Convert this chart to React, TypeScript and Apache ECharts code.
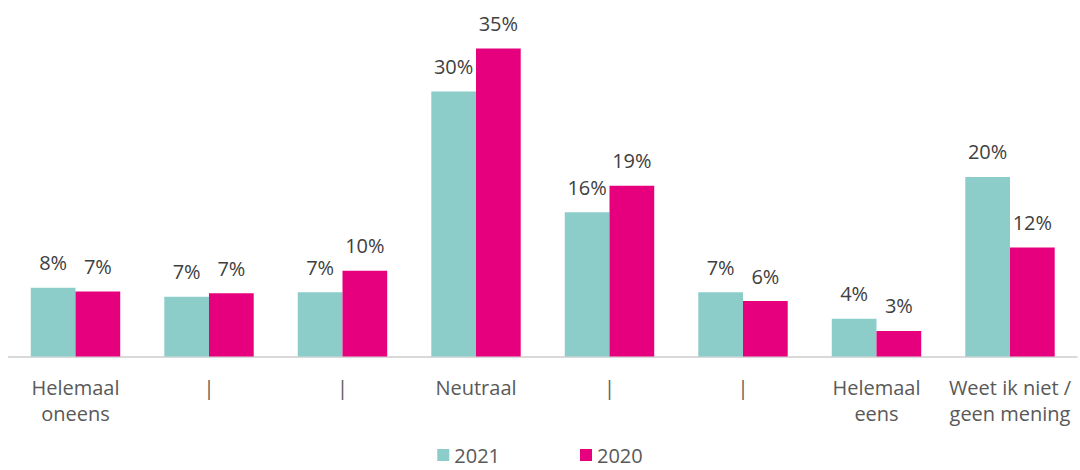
import React, { useEffect, useRef } from "react";
import * as echarts from "echarts";

const categories = [
  "Helemaal\noneens",
  "|",
  "|",
  "Neutraal",
  "|",
  "|",
  "Helemaal\neens",
  "Weet ik niet /\ngeen mening",
];
const values2021 = [7.8, 6.8, 7.3, 30.1, 16.4, 7.3, 4.3, 20.4];
const values2020 = [7.4, 7.2, 9.75, 35.0, 19.4, 6.3, 2.9, 12.4];
const seriesNames = ["2021", "2020"];
const colors = ["#8ccdca", "#e6007e"];

const FONT = "Open Sans";

export default function App() {
  const ref = useRef<HTMLDivElement>(null);
  useEffect(() => {
    if (!ref.current) return;
    const chart = echarts.init(ref.current, undefined, { renderer: "svg" });
    const label = {
      show: true,
      position: "top",
      distance: 15,
      color: "#404040",
      fontSize: 20,
      fontFamily: FONT,
      formatter: (p: any) => Math.round(p.value) + "%",
    };
    chart.setOption({
      animation: false,
      color: colors,
      grid: { left: 8.75, right: 3.25, top: 4.5, bottom: 113.5, containLabel: false },
      legend: {
        top: 445,
        left: "center",
        padding: 0,
        itemWidth: 12,
        itemHeight: 12,
        itemGap: 80,
        icon: "rect",
        textStyle: { fontSize: 20, lineHeight: 20, color: "#595959", fontFamily: FONT },
        data: seriesNames,
      },
      xAxis: {
        type: "category",
        data: categories,
        axisTick: { show: false },
        axisLine: { lineStyle: { color: "#d9d9d9", width: 2 } },
        axisLabel: {
          interval: 0,
          margin: 18,
          fontSize: 20,
          lineHeight: 26,
          color: "#595959",
          fontFamily: FONT,
        },
      },
      yAxis: {
        type: "value",
        min: 0,
        max: 40,
        show: false,
        splitLine: { show: false },
      },
      series: [
        {
          name: seriesNames[0],
          type: "bar",
          data: values2021,
          barGap: "0%",
          barCategoryGap: "33%",
          label,
        },
        {
          name: seriesNames[1],
          type: "bar",
          data: values2020,
          barGap: "0%",
          barCategoryGap: "33%",
          label,
        },
      ],
    });
    return () => chart.dispose();
  }, []);
  return (
    <div
      ref={ref}
      style={{ position: "fixed", left: 0, top: 0, width: 1080, height: 470, background: "#fff" }}
    />
  );
}
